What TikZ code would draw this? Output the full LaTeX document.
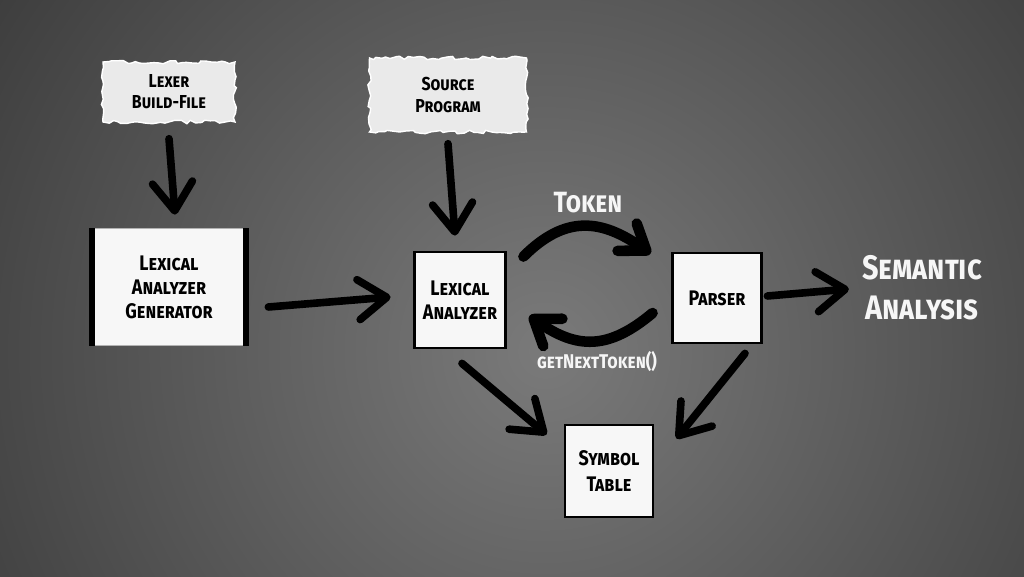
\documentclass[tikz,border=0pt]{standalone}
\usepackage{fontspec}
\setmainfont{Fira Sans}[FakeStretch=0.85]
\usetikzlibrary{arrows.meta,calc,decorations.pathmorphing}
\definecolor{bgin}{RGB}{122,122,122}
\definecolor{bgout}{RGB}{36,36,36}
\definecolor{paper}{RGB}{234,234,234}
\definecolor{sheet}{RGB}{247,247,247}
\definecolor{chalk}{RGB}{246,246,246}

\begin{document}
\begin{tikzpicture}[x=0.03cm,y=0.03cm,
brush/.style ={line width=6.5pt,line cap=round,-{Straight Barb[length=0.85cm,width=1.2cm,round]}},
curl/.style ={line width=9pt,line cap=round,looseness=1.2,-{Straight Barb[length=0.7cm,width=1.0cm,round]}},
box/.style ={draw=black,line width=2.4pt,fill=sheet,align=center,
  font=\fontsize{18}{20.5}\selectfont\bfseries\scshape},
note/.style ={fill=paper,draw=white,line width=1.2pt,align=center,decorate,
  decoration={random steps,segment length=4pt,amplitude=1.5pt},
  font=\fontsize{16}{18}\selectfont\bfseries\scshape},
chalk/.style ={text=chalk,align=center,font=\bfseries\scshape}]

% background
\begin{scope}
\clip (0,0) rectangle (1024,576);
\fill[bgout] (0,0) rectangle (1024,576);
\shade[inner color=bgin,outer color=bgout] (545,225) circle (28cm);
\end{scope}
\useasboundingbox (0,0) rectangle (1024,576);

\node[note,minimum width=3.96cm,minimum height=1.8cm] (build) at (169,484) {Lexer\\Build-File};
\node[note,minimum width=4.71cm,minimum height=2.22cm] (source) at (448,481) {Source\\Program};

\node[box,draw=gray!60,line width=0.6pt,minimum width=4.62cm,minimum height=3.51cm] (gen) at (169,289) {Lexical\\Analyzer\\Generator};
\draw[line width=5pt] (gen.north west) -- (gen.south west) (gen.north east) -- (gen.south east);
\node[box,minimum width=2.73cm,minimum height=2.88cm] (lexa) at (460,276) {Lexical\\Analyzer};
\node[box,minimum width=2.67cm,minimum height=2.7cm] (parser) at (717,278) {Parser};
\node[box,minimum width=2.64cm,minimum height=2.76cm,font=\fontsize{18}{22}\selectfont\bfseries\scshape] (symbol) at (609,105) {Symbol\\Table};

\node[chalk,font=\fontsize{29}{34}\selectfont\bfseries\scshape] (sem) at (922,288) {Semantic\\Analysis};
\node[chalk,font=\fontsize{25}{28}\selectfont\bfseries\scshape] (token) at (588,373) {Token};
\node[chalk,font=\fontsize{17}{18}\selectfont\bfseries\scshape] (next) at (597,214) {getNextToken()};

\path ($(build.south)+(0,-16)$) edge[brush] ($(gen.north)+(6,13.5)$);
\path ($(source.south)+(0,-11)$) edge[brush] ($(lexa.north)+(-5,15)$);
\path ($(gen.east)+(22,-20)$) edge[brush] ($(lexa.west)+(-22.5,3)$);
\path ($(lexa.north east)+(16.5,-6)$) edge[curl,out=45,in=145] ($(parser.north west)+(-20.5,-2)$);
\path ($(parser.west)+(-18.5,-15)$) edge[curl,out=220,in=-35] ($(lexa.east)+(22.5,-16)$);
\path ($(parser.east)+(4.5,2)$) edge[brush] ($(sem.west)+(-9,-1)$);
\path ($(lexa.south)+(2,-14)$) edge[brush] ($(symbol.north west)+(-17,-11)$);
\path ($(parser.south)+(28,-9)$) edge[brush] ($(symbol.north east)+(22,-15)$);

\end{tikzpicture}
\end{document}
